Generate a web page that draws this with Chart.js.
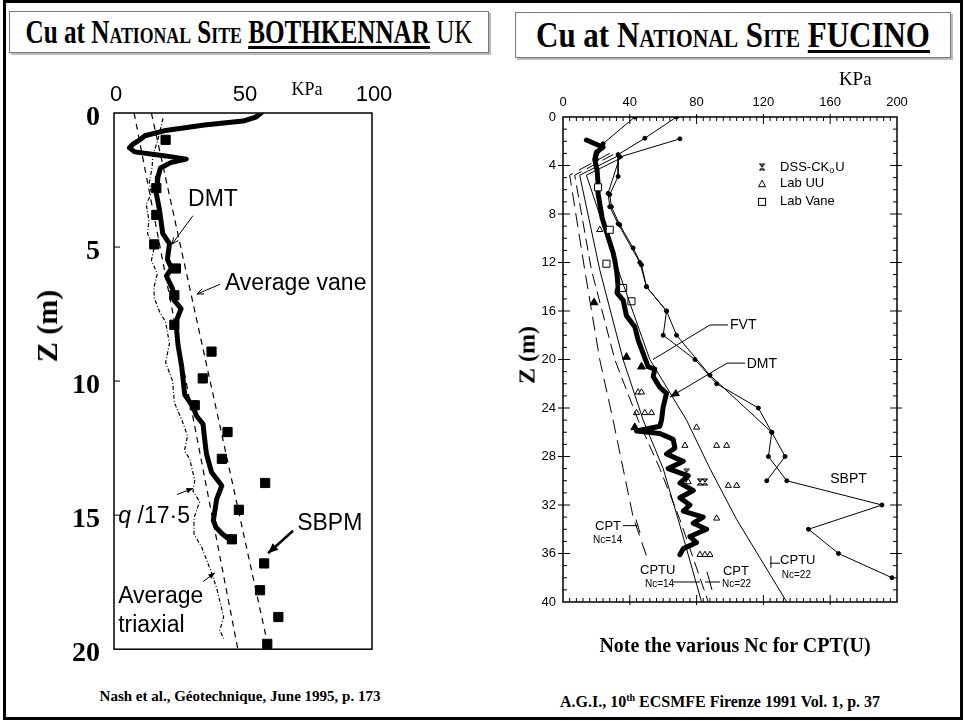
<!DOCTYPE html>
<html>
<head>
<meta charset="utf-8">
<script src="https://cdn.jsdelivr.net/npm/chart.js@4.4.0/dist/chart.umd.min.js"></script>
<style>
  html, body { margin: 0; padding: 0; background: #fff; }
  #page { position: relative; width: 964px; height: 721px; overflow: hidden; background: #fff; }
  #frame { position: absolute; left: 3px; top: 0px; width: 954px; height: 714px; border: 3px solid #000; }
  .tbox { position: absolute; border: 1.5px solid #777; box-shadow: 2px 2px 0 #bbb; background: #fff;
          font-family: "Liberation Serif", "Times New Roman", serif; font-weight: bold; white-space: nowrap;
          display: flex; justify-content: center; align-items: center; color: #000; }
  .tbox span.in { display: inline-block; flex: none; transform-origin: center; }
  .sc { font-variant: small-caps; }
  .tbox u { text-decoration-thickness: 3px; text-underline-offset: 3px; }
  .light { font-weight: normal; }
  canvas { position: absolute; }
  .cap { position: absolute; font-family: "Liberation Serif", "Times New Roman", serif; font-weight: bold;
         white-space: nowrap; color: #000; text-align: center; }
  .ztitle { position: absolute; font-family: "Liberation Serif", "Times New Roman", serif; font-weight: bold;
            white-space: nowrap; transform: translate(-50%, -50%) rotate(-90deg); }
</style>
</head>
<body>
<div id="page">
  <div id="frame"></div>
  <div class="tbox" style="left:9px;top:11px;width:478px;height:40px;font-size:34px;">
    <span class="in" style="transform:scaleX(0.74);">Cu at <span class="sc">National Site</span> <u>BOTHKENNAR</u><span class="light"> UK</span></span>
  </div>
  <div class="tbox" style="left:515px;top:12px;width:434px;height:44px;font-size:36px;">
    <span class="in" style="transform:scaleX(0.86);">Cu at <span class="sc">National Site</span> <u>FUCINO</u></span>
  </div>

  <canvas id="bk" width="470" height="620" style="left:10px;top:60px;"></canvas>
  <canvas id="fu" width="455" height="575" style="left:500px;top:60px;"></canvas>

  <div class="ztitle" style="left:47px;top:326px;font-size:30px;">Z (m)</div>
  <div class="ztitle" style="left:527px;top:355px;font-size:24px;">Z (m)</div>

  <div class="cap" style="left:60px;width:360px;top:688px;font-size:15px;">Nash et al., Géotechnique, June 1995, p. 173</div>
  <div class="cap" style="left:560px;width:350px;top:634px;font-size:20px;">Note the various Nc for CPT(U)</div>
  <div class="cap" style="left:520px;width:400px;top:692px;font-size:16px;">A.G.I., 10<sup style="font-size:10px;">th</sup> ECSMFE Firenze 1991 Vol. 1, p. 37</div>
</div>

<script>
// ---------- Bothkennar (left) ----------
const bkDmtKpa   = [57, 55, 50, 35, 20, 12, 10, 7.5, 6, 8, 20, 28, 22, 18, 17, 16.8, 16.4, 17.6, 18.9, 21.5, 20.7, 22.3, 20.3, 22.7, 23.4, 26, 24, 24.8, 26.3, 27.4, 30.6, 32, 34.5, 35, 35.8, 37.8, 41.8, 39.8, 39, 38.5, 39.5, 42, 44, 46];
const bkDmtDepth = [0, 0.15, 0.3, 0.45, 0.65, 0.85, 1.0, 1.15, 1.3, 1.45, 1.6, 1.72, 1.85, 2.05, 2.4, 2.7, 3.0, 3.6, 4.5, 4.87, 5.46, 5.8, 6.08, 6.56, 7.0, 7.3, 7.8, 8.64, 9.5, 10.5, 10.96, 11.3, 11.6, 12.05, 12.7, 13.4, 13.9, 14.4, 14.9, 15.2, 15.45, 15.7, 15.85, 15.9];

const bkQcKpa   = [19, 18, 17, 15, 14.8, 13.7, 14.5, 12.5, 13.5, 13, 15.6, 14.5, 16.8, 15.5, 15.6, 17.6, 20, 21.5, 20, 22.7, 23.4, 26.5, 28.5, 27.3, 29.3, 31.3, 30.6, 33.2, 31, 31, 34, 36, 38, 40, 41, 42.5, 41, 42.5];
const bkQcDepth = [0.2, 0.6, 1.0, 1.6, 2.0, 2.6, 3.0, 3.4, 4.0, 4.5, 5.0, 5.5, 6.0, 6.5, 6.9, 7.4, 7.8, 8.6, 9.3, 10.0, 10.8, 11.5, 12.05, 12.6, 12.9, 13.7, 14.1, 14.5, 15.1, 15.7, 16.2, 16.7, 17.2, 17.8, 18.2, 18.8, 19.3, 19.6];

const bkVaneKpa   = [14.5, 60];
const bkVaneDepth = [0, 20];
const bkTriaxKpa   = [7.8, 48];
const bkTriaxDepth = [0, 20];

const bkSbpmKpa   = [20, 16.4, 16.4, 15.6, 24, 23.4, 23.4, 37.8, 34.4, 31.3, 44, 41.8, 58.6, 48.4, 45.7, 58.2, 56.6, 63.7, 59.4];
const bkSbpmDepth = [1.0, 2.8, 3.8, 4.9, 5.8, 6.8, 7.9, 8.9, 9.9, 10.9, 11.9, 12.9, 13.8, 14.8, 15.9, 16.8, 17.8, 18.8, 19.8];

const bkXTicks = [0, 50, 100];
const bkYTicks = [0, 5, 10, 15, 20];

// ---------- Fucino (right) ----------
const fuDmtKpa   = [14, 24, 20, 19, 20.4, 21, 21, 23.4, 27, 30, 31, 32.3, 33, 32.3, 36, 38, 43, 45, 48, 51, 55, 54, 58, 62, 60, 59, 58, 44, 58, 63, 66, 67, 62, 72, 63, 75, 70, 78, 70, 76, 72, 84, 78, 86, 76, 80, 72, 70];
const fuDmtDepth = [1.9, 2.5, 2.9, 3.5, 4.4, 5.5, 6.3, 8.3, 9.9, 11.2, 11.8, 12.9, 14, 14.5, 15.1, 16.4, 17.3, 18.4, 19.5, 20.6, 20.8, 21.4, 22.3, 22.8, 23.9, 25, 25.5, 25.9, 26.1, 26.4, 26.6, 27.3, 27.8, 28.4, 29.0, 29.6, 30.2, 30.8, 31.4, 32.0, 32.5, 33.0, 33.5, 34.0, 34.6, 35.1, 35.6, 36.1];

const fuSbptKpa   = [68, 49, 33, 33, 28, 29, 34, 42, 47, 50, 62, 68, 88, 125, 123, 134, 191, 147, 165, 197];
const fuSbptDepth = [0, 1.75, 3.1, 4.9, 6.4, 7.4, 8.9, 10.8, 12.2, 14, 16, 18, 21.3, 26, 28, 30, 32, 34, 36, 38];
const fuFvtKpa    = [70, 34, 27, 28, 33, 46, 50, 62, 60, 79, 92, 117, 125, 133, 122];
const fuFvtDepth  = [1.8, 3.3, 6.3, 7.4, 8.8, 12, 14, 16, 18, 20, 22, 24, 26, 28, 30];
const fuTopKpa    = [43, 24, 20];
const fuTopDepth  = [0, 2.2, 3.5];

const fuCpt14Kpa    = [28, 4, 13, 22, 30, 36, 42, 51];
const fuCpt14Depth  = [3.0, 4.8, 12.6, 20, 25, 29, 33, 36.6];
const fuCpt22Kpa    = [30, 7, 17, 31, 45, 58, 70, 87];
const fuCpt22Depth  = [3.1, 4.8, 12.6, 20, 25, 29, 33.2, 40];
const fuCptu14Kpa   = [33, 10, 22, 36, 48, 60, 69, 83];
const fuCptu14Depth = [3.2, 4.8, 12.6, 20, 25, 29, 33.2, 40];
const fuCptu22Kpa   = [36, 14, 33, 52, 74, 88, 104, 134];
const fuCptu22Depth = [3.3, 4.8, 12.6, 20, 25, 29, 33.2, 40];

const fuUuKpa   = [22, 45, 47, 44, 49, 53, 80, 73, 92, 98, 75, 99, 104, 92, 82, 85, 88];
const fuUuDepth = [9.3, 22.7, 22.7, 24.4, 24.4, 24.4, 25.6, 27.1, 27.1, 27.1, 30.1, 30.4, 30.4, 33.1, 36.1, 36.1, 36.1];
const fuUuFillKpa   = [18.6, 38, 47, 43];
const fuUuFillDepth = [15.3, 19.8, 20.6, 25.6];
const fuVaneKpa   = [21, 28, 26, 36, 41];
const fuVaneDepth = [5.8, 9.3, 12.1, 14.1, 15.2];
const fuDssKpa   = [74, 82, 85];
const fuDssDepth = [29.3, 30.1, 30.1];

const fuXTicks = [0, 40, 80, 120, 160, 200];
const fuYTicks = [0, 4, 8, 12, 16, 20, 24, 28, 32, 36, 40];

function pts(xs, ys) { return xs.map((v, i) => ({ x: v, y: ys[i] })); }

// hourglass marker for DSS-CKoU
function hourglass(size) {
  const c = document.createElement('canvas');
  c.width = size; c.height = size;
  const g = c.getContext('2d');
  g.strokeStyle = '#000'; g.lineWidth = 1.2;
  g.beginPath();
  g.moveTo(1, 1); g.lineTo(size - 1, 1);
  g.moveTo(1, size - 1); g.lineTo(size - 1, size - 1);
  g.moveTo(2, 1); g.lineTo(size - 2, size - 1);
  g.moveTo(size - 2, 1); g.lineTo(2, size - 1);
  g.stroke();
  return c;
}
const hg = hourglass(8);

function arrowHead(ctx, x1, y1, x2, y2, len, filled) {
  const a = Math.atan2(y2 - y1, x2 - x1);
  ctx.beginPath();
  ctx.moveTo(x2 - len * Math.cos(a - 0.4), y2 - len * Math.sin(a - 0.4));
  ctx.lineTo(x2, y2);
  ctx.lineTo(x2 - len * Math.cos(a + 0.4), y2 - len * Math.sin(a + 0.4));
  if (filled) { ctx.closePath(); ctx.fill(); } else { ctx.stroke(); }
}

function line(ctx, chart, p, w) {
  const xs = chart.scales.x, ys = chart.scales.y;
  ctx.beginPath();
  p.forEach((q, i) => {
    const X = xs.getPixelForValue(q[0]), Y = ys.getPixelForValue(q[1]);
    if (i === 0) ctx.moveTo(X, Y); else ctx.lineTo(X, Y);
  });
  ctx.lineWidth = w || 1;
  ctx.stroke();
}

function label(ctx, chart, txt, x, y, font, align) {
  ctx.font = font;
  ctx.textAlign = align || 'left';
  ctx.textBaseline = 'middle';
  ctx.fillText(txt, chart.scales.x.getPixelForValue(x), chart.scales.y.getPixelForValue(y));
}

// frame + inward ticks
function framePlugin(opts) {
  return {
    id: 'frame',
    afterDatasetsDraw(chart) {
      const { ctx, chartArea: a } = chart;
      const xs = chart.scales.x, ys = chart.scales.y;
      ctx.save();
      ctx.strokeStyle = '#000';
      ctx.lineWidth = opts.border;
      ctx.strokeRect(a.left, a.top, a.right - a.left, a.bottom - a.top);
      ctx.lineWidth = 1;
      ctx.beginPath();
      opts.yTicks.forEach(t => {
        const Y = ys.getPixelForValue(t.v);
        ctx.moveTo(a.left - t.out, Y); ctx.lineTo(a.left + t.in, Y);
        if (opts.rightTicks) { ctx.moveTo(a.right + t.out, Y); ctx.lineTo(a.right - t.in, Y); }
      });
      opts.xTicks.forEach(t => {
        const X = xs.getPixelForValue(t.v);
        ctx.moveTo(X, a.top - t.out); ctx.lineTo(X, a.top + t.in);
        ctx.moveTo(X, a.bottom + t.out); ctx.lineTo(X, a.bottom - t.in);
      });
      ctx.stroke();
      ctx.restore();
    }
  };
}

// ---------- left chart ----------
const bkMinor = [5, 10, 15].map(v => ({ v: v, in: 6, out: 0 }));

const bkLabels = {
  id: 'bkLabels',
  afterDraw(chart) {
    const ctx = chart.ctx;
    ctx.save();
    ctx.fillStyle = '#000'; ctx.strokeStyle = '#000';
    const f = '23px "Liberation Sans", Arial, sans-serif';
    label(ctx, chart, 'DMT', 28.7, 3.25, f);
    line(ctx, chart, [[30.6, 3.83], [22.5, 4.89]], 1);
    label(ctx, chart, 'Average vane', 43, 6.35, f);
    line(ctx, chart, [[41.1, 6.39], [32.2, 6.75]], 1);
    ctx.font = 'italic 23px "Liberation Sans", Arial, sans-serif';
    ctx.textAlign = 'left'; ctx.textBaseline = 'middle';
    const qx = chart.scales.x.getPixelForValue(1.6), qy = chart.scales.y.getPixelForValue(15.07);
    ctx.fillText('q', qx, qy);
    ctx.font = f;
    ctx.fillText(' /17·5', qx + 13, qy);
    line(ctx, chart, [[24.4, 14.23], [30.6, 14.0]], 1);
    label(ctx, chart, 'SBPM', 71, 15.33, f);
    line(ctx, chart, [[69.4, 15.58], [59.7, 16.42]], 2.5);
    label(ctx, chart, 'Average', 1.6, 18.03, f);
    label(ctx, chart, 'triaxial', 1.6, 19.12, f);
    line(ctx, chart, [[34.5, 17.48], [39.1, 17.15]], 1);
    const P = (x, y) => [chart.scales.x.getPixelForValue(x), chart.scales.y.getPixelForValue(y)];
    let s, e;
    s = P(30.6, 3.83); e = P(22.5, 4.89); ctx.lineWidth = 1; arrowHead(ctx, s[0], s[1], e[0], e[1], 7, false);
    s = P(41.1, 6.39); e = P(32.2, 6.75); arrowHead(ctx, s[0], s[1], e[0], e[1], 7, false);
    s = P(24.4, 14.23); e = P(30.6, 14.0); arrowHead(ctx, s[0], s[1], e[0], e[1], 7, true);
    s = P(69.4, 15.58); e = P(59.7, 16.42); arrowHead(ctx, s[0], s[1], e[0], e[1], 11, true);
    s = P(34.5, 17.48); e = P(39.1, 17.15); arrowHead(ctx, s[0], s[1], e[0], e[1], 7, true);
    label(ctx, chart, 'KPa', 74.8, -0.84, '18px "Liberation Serif", serif', 'center');
    ctx.restore();
  }
};

new Chart(document.getElementById('bk'), {
  type: 'scatter',
  data: {
    datasets: [
      { label: 'Average triaxial', data: pts(bkTriaxKpa, bkTriaxDepth), showLine: true, borderColor: '#000', borderWidth: 1.2, borderDash: [6, 5], pointRadius: 0 },
      { label: 'Average vane', data: pts(bkVaneKpa, bkVaneDepth), showLine: true, borderColor: '#000', borderWidth: 1.2, borderDash: [6, 5], pointRadius: 0 },
      { label: 'q/17.5', data: pts(bkQcKpa, bkQcDepth), showLine: true, borderColor: '#000', borderWidth: 1.2, borderDash: [4, 2, 1, 2], pointRadius: 0 },
      { label: 'SBPM', data: pts(bkSbpmKpa, bkSbpmDepth), showLine: false, pointStyle: 'rect', pointRadius: 6.5, backgroundColor: '#000', borderColor: '#000' },
      { label: 'DMT', data: pts(bkDmtKpa, bkDmtDepth), showLine: true, borderColor: '#000', borderWidth: 5, pointRadius: 0, borderJoinStyle: 'round', borderCapStyle: 'round' }
    ]
  },
  options: {
    responsive: false, animation: false,
    layout: { padding: { left: 0, right: 108, top: 0, bottom: 19 } },
    plugins: { legend: { display: false }, tooltip: { enabled: false } },
    scales: {
      x: {
        type: 'linear', position: 'top', min: 0, max: 100,
        afterBuildTicks: s => { s.ticks = bkXTicks.map(v => ({ value: v })); },
        afterFit: s => { s.height = 53; },
        ticks: { color: '#000', padding: 5, labelOffset: 2, font: { family: '"Liberation Sans", Arial, sans-serif', size: 22 } },
        grid: { display: false, drawTicks: false }, border: { display: false }
      },
      y: {
        type: 'linear', reverse: true, min: 0, max: 20,
        afterBuildTicks: s => { s.ticks = bkYTicks.map(v => ({ value: v })); },
        afterFit: s => { s.width = 104; },
        ticks: { color: '#000', padding: 14, labelOffset: 5, font: { family: '"Liberation Serif", "Times New Roman", serif', size: 28, weight: 'bold' } },
        grid: { display: false, drawTicks: false }, border: { display: false }
      }
    }
  },
  plugins: [framePlugin({ border: 1.5, yTicks: bkMinor, xTicks: [], rightTicks: false }), bkLabels]
});

// ---------- right chart ----------
const fuYTickMarks = [];
for (let d = 1; d < 40; d++) fuYTickMarks.push({ v: d, in: d % 4 === 0 ? 7 : 4, out: d % 4 === 0 ? 5 : 0 });
const fuXTickMarks = [];
for (let k = 4; k < 200; k += 4) fuXTickMarks.push({ v: k, in: k % 40 === 0 ? 7 : 4, out: k % 40 === 0 ? 3 : 0 });

const fuLabels = {
  id: 'fuLabels',
  afterDraw(chart) {
    const ctx = chart.ctx;
    ctx.save();
    ctx.fillStyle = '#000'; ctx.strokeStyle = '#000';
    const sans = '"Liberation Sans", Arial, sans-serif';
    const P = (x, y) => [chart.scales.x.getPixelForValue(x), chart.scales.y.getPixelForValue(y)];
    label(ctx, chart, 'FVT', 100, 17.2, '14px ' + sans);
    line(ctx, chart, [[98.8, 17.15], [88, 17.15], [53.9, 20.0]], 1);
    label(ctx, chart, 'DMT', 110, 20.35, '14px ' + sans);
    line(ctx, chart, [[109, 20.3], [98.2, 20.3], [64.1, 23.1]], 1);
    let s = P(98.2, 20.3), e = P(64.1, 23.1);
    arrowHead(ctx, s[0], s[1], e[0], e[1], 10, true);
    label(ctx, chart, 'SBPT', 160, 29.9, '14px ' + sans);

    label(ctx, chart, 'CPT', 19.2, 33.8, '13px ' + sans);
    label(ctx, chart, 'Nc=14', 18, 34.9, '10px ' + sans);
    line(ctx, chart, [[35.9, 33.7], [44.3, 33.7]], 1);
    line(ctx, chart, [[43.7, 33.2], [46.1, 34.3]], 1);
    label(ctx, chart, 'CPTU', 46.1, 37.4, '13px ' + sans);
    label(ctx, chart, 'Nc=14', 49.1, 38.5, '10px ' + sans);
    line(ctx, chart, [[65.9, 38.35], [82, 38.35]], 1);
    label(ctx, chart, 'CPT', 95.8, 37.5, '13px ' + sans);
    label(ctx, chart, 'Nc=22', 95.2, 38.5, '10px ' + sans);
    line(ctx, chart, [[85, 38.35], [94, 38.35]], 1);
    line(ctx, chart, [[86.2, 37.5], [89.2, 39.0]], 1);
    label(ctx, chart, 'CPTU', 130, 36.6, '13px ' + sans);
    label(ctx, chart, 'Nc=22', 131, 37.8, '10px ' + sans);
    line(ctx, chart, [[124, 36.8], [130, 36.8]], 1);
    line(ctx, chart, [[124.5, 36.2], [124.5, 37.2]], 1);

    // legend
    const lf = '13px ' + sans;
    let p = P(119.2, 4.12);
    ctx.drawImage(hg, p[0] - 4, p[1] - 4);
    ctx.font = lf; ctx.textAlign = 'left'; ctx.textBaseline = 'middle';
    const t0 = P(130, 4.12);
    ctx.fillText('DSS-CK', t0[0], t0[1]);
    let w = ctx.measureText('DSS-CK').width;
    ctx.font = '9px ' + sans;
    ctx.fillText('o', t0[0] + w, t0[1] + 4);
    ctx.font = lf;
    ctx.fillText('U', t0[0] + w + 6, t0[1]);
    p = P(119.2, 5.5);
    ctx.lineWidth = 1;
    ctx.beginPath(); ctx.moveTo(p[0] - 3.5, p[1] + 3); ctx.lineTo(p[0], p[1] - 3.5); ctx.lineTo(p[0] + 3.5, p[1] + 3); ctx.closePath(); ctx.stroke();
    label(ctx, chart, 'Lab UU', 130, 5.5, lf);
    p = P(119.2, 7.0);
    ctx.strokeRect(p[0] - 3.5, p[1] - 3.5, 7, 7);
    label(ctx, chart, 'Lab Vane', 130, 7.0, lf);

    label(ctx, chart, 'KPa', 175, -3.05, '19px "Liberation Serif", serif', 'center');
    ctx.restore();
  }
};

new Chart(document.getElementById('fu'), {
  type: 'scatter',
  data: {
    datasets: [
      { label: 'CPT Nc=14', data: pts(fuCpt14Kpa, fuCpt14Depth), showLine: true, borderColor: '#000', borderWidth: 1, borderDash: [14, 7], pointRadius: 0 },
      { label: 'CPT Nc=22', data: pts(fuCpt22Kpa, fuCpt22Depth), showLine: true, borderColor: '#000', borderWidth: 1, borderDash: [12, 6], pointRadius: 0 },
      { label: 'CPTU Nc=14', data: pts(fuCptu14Kpa, fuCptu14Depth), showLine: true, borderColor: '#000', borderWidth: 1, pointRadius: 0 },
      { label: 'CPTU Nc=22', data: pts(fuCptu22Kpa, fuCptu22Depth), showLine: true, borderColor: '#000', borderWidth: 1, pointRadius: 0 },
      { label: 'top', data: pts(fuTopKpa, fuTopDepth), showLine: true, borderColor: '#000', borderWidth: 1, pointRadius: 2, backgroundColor: '#000' },
      { label: 'SBPT', data: pts(fuSbptKpa, fuSbptDepth), showLine: true, borderColor: '#000', borderWidth: 1, pointRadius: 2, backgroundColor: '#000' },
      { label: 'FVT', data: pts(fuFvtKpa, fuFvtDepth), showLine: true, borderColor: '#000', borderWidth: 1, pointRadius: 2, backgroundColor: '#000' },
      { label: 'Lab UU', data: pts(fuUuKpa, fuUuDepth), showLine: false, pointStyle: 'triangle', pointRadius: 3.5, borderWidth: 1, borderColor: '#000', backgroundColor: '#fff' },
      { label: 'Lab UU filled', data: pts(fuUuFillKpa, fuUuFillDepth), showLine: false, pointStyle: 'triangle', pointRadius: 4.5, borderWidth: 1, borderColor: '#000', backgroundColor: '#000' },
      { label: 'Lab Vane', data: pts(fuVaneKpa, fuVaneDepth), showLine: false, pointStyle: 'rect', pointRadius: 5, borderWidth: 1, borderColor: '#000', backgroundColor: '#fff' },
      { label: 'DSS-CKoU', data: pts(fuDssKpa, fuDssDepth), showLine: false, pointStyle: hg },
      { label: 'DMT', data: pts(fuDmtKpa, fuDmtDepth), showLine: true, borderColor: '#000', borderWidth: 5, pointRadius: 0, borderJoinStyle: 'round', borderCapStyle: 'round' }
    ]
  },
  options: {
    responsive: false, animation: false,
    layout: { padding: { left: 0, right: 58, top: 0, bottom: 33 } },
    plugins: { legend: { display: false }, tooltip: { enabled: false } },
    scales: {
      x: {
        type: 'linear', position: 'top', min: 0, max: 200,
        afterBuildTicks: s => { s.ticks = fuXTicks.map(v => ({ value: v })); },
        afterFit: s => { s.height = 57; },
        ticks: { color: '#000', padding: 7, font: { family: '"Liberation Sans", Arial, sans-serif', size: 13 } },
        grid: { display: false, drawTicks: false }, border: { display: false }
      },
      y: {
        type: 'linear', reverse: true, min: 0, max: 40,
        afterBuildTicks: s => { s.ticks = fuYTicks.map(v => ({ value: v })); },
        afterFit: s => { s.width = 63; },
        ticks: { color: '#000', padding: 7, font: { family: '"Liberation Sans", Arial, sans-serif', size: 13 } },
        grid: { display: false, drawTicks: false }, border: { display: false }
      }
    }
  },
  plugins: [framePlugin({ border: 1.5, yTicks: fuYTickMarks, xTicks: fuXTickMarks, rightTicks: true }), fuLabels]
});
</script>
</body>
</html>
